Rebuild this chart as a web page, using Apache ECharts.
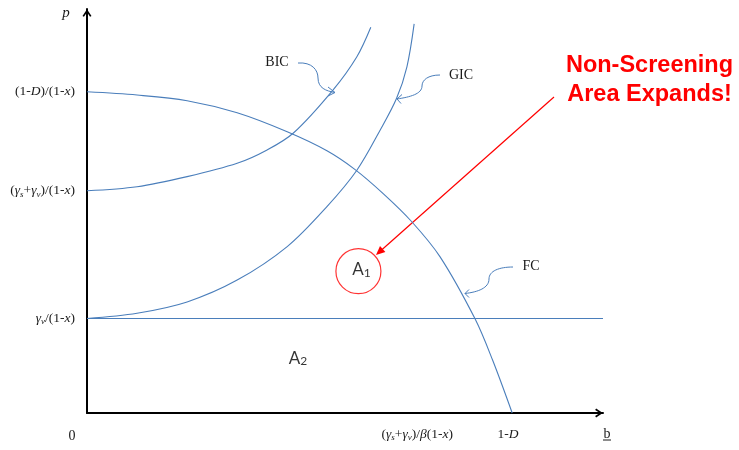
<!DOCTYPE html>
<html><head><meta charset="utf-8">
<script src="https://cdn.jsdelivr.net/npm/echarts@6/dist/echarts.min.js"></script>
<style>html,body{margin:0;padding:0;background:#fff}#c{width:739px;height:450px}</style>
</head><body><div id="c"></div>
<script>
// ---- data (abstract units: x 0..100 along b, y 0..100 along p) ----
const fcCurve  = [[0,79.5],[9.7,78.7],[19.4,77.3],[29.1,74.3],[38.8,69.6],[46.5,64.9],[51.9,60.3],[57.4,54.3],[62.9,47.4],[68.4,38.7],[75.2,23.3],[78.6,13.1],[82.4,0]];
const bicCurve = [[0,55.0],[9.7,56.0],[19.4,58.5],[29.1,61.8],[34.9,65.1],[40.0,69.3],[47.7,80.0],[52.3,88.2],[55.0,95.5]];
const gicCurve = [[0,23.4],[9.7,24.7],[19.4,27.5],[29.1,32.9],[38.8,41.2],[46.5,51.1],[52.3,60.1],[56.8,70.0],[60.0,77.9],[62.0,85.7],[63.4,96.3]];
const gvLine   = [[0,23.4],[100,23.4]];
const yTickValues = [23.4, 55.0, 79.5];
const yTickLabels = [
  '{g|γ}{s|v}{n|/(1-}{i|x}{n|)}',
  '{n|(}{g|γ}{s|s}{n|+}{g|γ}{s|v}{n|)/(1-}{i|x}{n|)}',
  '{n|(1-}{i|D}{n|)/(1-}{i|x}{n|)}'
];
const xTickValues = [64, 81.6];
const xTickLabels = [
  '{n|(}{g|γ}{s|s}{n|+}{g|γ}{s|v}{n|)/}{g|β}{n|(1-}{i|x}{n|)}',
  '{n|1-}{i|D}'
];
const areaLabels = [
  {name: 'A{s|1}', value: [52.6, 35.1], circle: true},
  {name: 'A{s|2}', value: [40.3, 13.1], circle: false}
];

const serif = '"Liberation Serif", "Times New Roman", serif';
const richSerif = {
  n: {fontFamily: serif, fontSize: 13.5, color: '#1a1a1a', lineHeight: 16},
  i: {fontFamily: serif, fontSize: 13.5, color: '#1a1a1a', fontStyle: 'italic', lineHeight: 16},
  g: {fontFamily: serif, fontSize: 13.5, color: '#1a1a1a', fontStyle: 'italic', lineHeight: 16},
  s: {fontFamily: serif, fontSize: 9, color: '#1a1a1a', fontStyle: 'italic', lineHeight: 9, verticalAlign: 'bottom'}
};
const blue = '#4a7ebb';
const chevron = 'path://M5,0 L10,7.5 L8.4,8.6 L5,3.4 L1.6,8.6 L0,7.5 Z';

function lineSeries(name, data) {
  return {name, type: 'line', data, showSymbol: false, symbol: 'none', smooth: 0.33,
    clip: false, lineStyle: {color: blue, width: 1.1}, silent: true};
}
function bez(p0, c1, c2, p1) {
  return {type: 'bezierCurve', shape: {x1: p0[0], y1: p0[1], cpx1: c1[0], cpy1: c1[1], cpx2: c2[0], cpy2: c2[1], x2: p1[0], y2: p1[1]},
    style: {stroke: blue, lineWidth: 1, fill: null}, silent: true};
}
function poly(pts, color) {
  return {type: 'polyline', shape: {points: pts}, style: {stroke: color || blue, lineWidth: 1, fill: null}, silent: true};
}

const chart = echarts.init(document.getElementById('c'), null, {renderer: 'canvas'});
chart.setOption({
  animation: false,
  backgroundColor: '#fff',
  grid: {left: 87, top: 9, width: 516, height: 404, containLabel: false, outerBoundsMode: 'none'},
  xAxis: {
    type: 'value', min: 0, max: 100,
    splitLine: {show: false}, axisTick: {show: false},
    axisLine: {show: true, lineStyle: {color: '#000', width: 2}, symbol: ['none', chevron], symbolSize: [9, 8], symbolOffset: [0, -4]},
    axisLabel: {show: true, customValues: xTickValues, margin: 13,
      formatter: v => { const k = xTickValues.indexOf(v); return k >= 0 ? xTickLabels[k] : ''; },
      rich: richSerif}
  },
  yAxis: {
    type: 'value', min: 0, max: 100,
    splitLine: {show: false}, axisTick: {show: false},
    axisLine: {show: true, lineStyle: {color: '#000', width: 2}, symbol: ['none', chevron], symbolSize: [9, 8], symbolOffset: [0, -4]},
    axisLabel: {show: true, customValues: yTickValues, margin: 12,
      formatter: v => { const k = yTickValues.indexOf(v); return k >= 0 ? yTickLabels[k] : ''; },
      rich: richSerif}
  },
  series: [
    lineSeries('FC', fcCurve),
    lineSeries('BIC', bicCurve),
    lineSeries('GIC', gicCurve),
    lineSeries('gv', gvLine),
    {
      type: 'scatter', silent: true, clip: false,
      data: areaLabels.map(a => ({
        value: a.value, name: a.name,
        symbolSize: a.circle ? 45 : 1,
        itemStyle: a.circle ? {color: 'rgba(0,0,0,0)', borderColor: '#ff0000', borderWidth: 1.2} : {color: 'rgba(0,0,0,0)'}
      })),
      label: {
        show: true, position: 'inside', offset: [3, -2],
        formatter: p => p.name,
        rich: {
          s: {fontFamily: 'Lato, "Open Sans", sans-serif', fontSize: 12, color: '#000', lineHeight: 12, verticalAlign: 'bottom'}
        },
        fontFamily: 'Lato, "Open Sans", sans-serif', fontSize: 17, color: '#000', lineHeight: 19
      }
    }
  ],
  graphic: [
    // axis names / origin
    {type: 'text', x: 66, y: 13, style: {text: 'p', font: 'italic 15px ' + serif, fill: '#1a1a1a', textAlign: 'center', textVerticalAlign: 'middle'}},
    {type: 'text', x: 72, y: 436, style: {text: '0', font: '14px ' + serif, fill: '#1a1a1a', textAlign: 'center', textVerticalAlign: 'middle'}},
    {type: 'text', x: 607, y: 434, style: {text: 'b', font: '14px ' + serif, fill: '#1a1a1a', textAlign: 'center', textVerticalAlign: 'middle'}},
    {type: 'line', shape: {x1: 603, y1: 440, x2: 611, y2: 440}, style: {stroke: '#1a1a1a', lineWidth: 1}},
    // curve names
    {type: 'text', x: 277, y: 62, style: {text: 'BIC', font: '14px ' + serif, fill: '#1a1a1a', textAlign: 'center', textVerticalAlign: 'middle'}},
    {type: 'text', x: 461, y: 75, style: {text: 'GIC', font: '14px ' + serif, fill: '#1a1a1a', textAlign: 'center', textVerticalAlign: 'middle'}},
    {type: 'text', x: 531, y: 266, style: {text: 'FC', font: '14px ' + serif, fill: '#1a1a1a', textAlign: 'center', textVerticalAlign: 'middle'}},
    // curly pointers
    bez([298, 63], [312, 62], [318, 70], [318, 78]),
    bez([318, 78], [318, 88], [326, 91], [335, 92.5]),
    poly([[328, 87], [335, 92.5], [328, 96]]),
    bez([440, 75], [428, 75], [422, 80], [422, 86]),
    bez([422, 86], [422, 94], [410, 97], [397, 99]),
    poly([[402, 94.5], [397, 99], [401, 103.5]]),
    bez([513, 267], [499, 267], [489, 271], [489, 279]),
    bez([489, 279], [489, 288], [478, 292], [465, 293.5]),
    poly([[469, 289.5], [465, 293.5], [469, 297.5]]),
    // red annotation
    {type: 'line', shape: {x1: 554, y1: 97, x2: 381, y2: 250.5}, style: {stroke: '#ff0000', lineWidth: 1.2}},
    {type: 'polygon', shape: {points: [[376, 255], [385.4, 252], [380, 246]]}, style: {fill: '#ff0000'}},
    {type: 'text', x: 649.5, y: 80.5, style: {text: 'Non-Screening\nArea Expands!', font: 'bold 23.5px "Liberation Sans", Arial, sans-serif', fill: '#ff0000', textAlign: 'center', textVerticalAlign: 'middle', lineHeight: 29}}
  ]
});
</script></body></html>
